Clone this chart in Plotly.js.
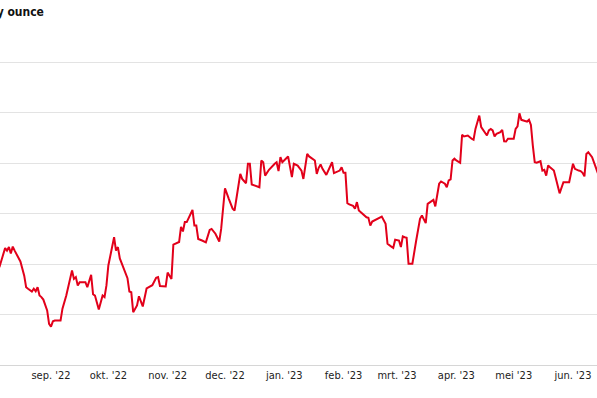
<!DOCTYPE html>
<html>
<head>
<meta charset="utf-8">
<script src="https://cdn.plot.ly/plotly-3.0.1.min.js"></script>
<style>
html,body{margin:0;padding:0;background:#fff;}
#chart{width:597px;height:398px;}
text{font-stretch:condensed !important;}
</style>
</head>
<body>
<div id="chart"></div>
<script>
const dates = [
"2022-08-05","2022-08-06","2022-08-07","2022-08-08","2022-08-09","2022-08-10","2022-08-11","2022-08-12","2022-08-13","2022-08-15",
"2022-08-16","2022-08-18","2022-08-19","2022-08-20","2022-08-22","2022-08-23","2022-08-24","2022-08-25","2022-08-26","2022-08-27",
"2022-08-28","2022-08-30","2022-08-31","2022-09-01","2022-09-02","2022-09-03","2022-09-06","2022-09-07","2022-09-09","2022-09-12",
"2022-09-13","2022-09-14","2022-09-15","2022-09-16","2022-09-19","2022-09-20","2022-09-22","2022-09-23","2022-09-24","2022-09-26",
"2022-09-28","2022-09-29","2022-09-30","2022-10-01","2022-10-04","2022-10-05","2022-10-06","2022-10-07","2022-10-10","2022-10-11",
"2022-10-12","2022-10-13","2022-10-14","2022-10-16","2022-10-17","2022-10-18","2022-10-19","2022-10-21","2022-10-24","2022-10-26",
"2022-10-27","2022-10-28","2022-10-31","2022-11-01","2022-11-03","2022-11-04","2022-11-07","2022-11-08","2022-11-09","2022-11-10",
"2022-11-11","2022-11-14","2022-11-15","2022-11-16","2022-11-17","2022-11-19","2022-11-21","2022-11-23","2022-11-24","2022-11-26",
"2022-11-28","2022-11-29","2022-12-01","2022-12-03","2022-12-05","2022-12-06","2022-12-09","2022-12-10","2022-12-12","2022-12-13",
"2022-12-14","2022-12-15","2022-12-17","2022-12-19","2022-12-20","2022-12-21","2022-12-22","2022-12-24","2022-12-27","2022-12-28",
"2022-12-29","2022-12-30","2022-12-31","2023-01-03","2023-01-05","2023-01-06","2023-01-08","2023-01-10","2023-01-11","2023-01-13",
"2023-01-14","2023-01-17","2023-01-18","2023-01-19","2023-01-20","2023-01-21","2023-01-23","2023-01-25","2023-01-26","2023-01-27",
"2023-01-30","2023-01-31","2023-02-01","2023-02-02","2023-02-03","2023-02-04","2023-02-06","2023-02-07","2023-02-08","2023-02-09",
"2023-02-10","2023-02-12","2023-02-13","2023-02-14","2023-02-15","2023-02-16","2023-02-18","2023-02-21","2023-02-23","2023-02-24",
"2023-02-26","2023-02-27","2023-02-28","2023-03-02","2023-03-03","2023-03-04","2023-03-05","2023-03-06","2023-03-07","2023-03-09",
"2023-03-11","2023-03-13","2023-03-14","2023-03-16","2023-03-17","2023-03-19","2023-03-20","2023-03-21","2023-03-23","2023-03-24",
"2023-03-26","2023-03-27","2023-03-28","2023-03-29","2023-03-30","2023-03-31","2023-04-01","2023-04-03","2023-04-04","2023-04-05",
"2023-04-07","2023-04-09","2023-04-10","2023-04-11","2023-04-13","2023-04-14","2023-04-16","2023-04-17","2023-04-18","2023-04-19",
"2023-04-20","2023-04-21","2023-04-22","2023-04-24","2023-04-25","2023-04-26","2023-04-27","2023-04-28","2023-05-01","2023-05-02",
"2023-05-03","2023-05-04","2023-05-05","2023-05-07","2023-05-08","2023-05-09","2023-05-10","2023-05-11","2023-05-12","2023-05-13",
"2023-05-15","2023-05-16","2023-05-17","2023-05-18","2023-05-19","2023-05-20","2023-05-22","2023-05-23","2023-05-24","2023-05-25",
"2023-05-27","2023-05-29","2023-05-30","2023-06-01","2023-06-02","2023-06-04","2023-06-05","2023-06-06","2023-06-07","2023-06-08",
"2023-06-09","2023-06-11","2023-06-12","2023-06-13","2023-06-14"
];
const prices = [
19.87,20.14,20.47,20.63,20.53,20.67,20.42,20.69,20.53,20.27,
20.10,19.54,19.08,19.02,18.91,19.02,18.92,19.08,18.75,18.69,
18.59,18.16,17.63,17.52,17.73,17.76,17.76,18.23,18.75,19.74,
19.41,19.48,19.15,19.28,19.28,19.08,19.57,18.80,18.75,18.20,
18.75,18.69,19.15,19.94,21.06,20.53,20.67,20.22,19.62,19.44,
18.91,18.88,18.09,18.36,18.72,18.49,18.32,19.03,19.16,19.45,
19.48,19.13,19.11,19.66,19.41,20.77,20.87,21.47,21.29,21.66,
21.66,22.14,21.52,21.52,20.99,20.93,20.86,21.35,21.39,21.20,
20.89,21.39,23.00,22.58,22.19,22.12,23.57,23.37,23.20,23.97,
23.97,23.15,23.11,23.04,24.10,24.03,23.50,23.73,23.97,24.03,
23.68,24.23,24.03,24.26,23.44,23.97,23.90,23.70,23.37,24.36,
24.26,24.10,23.57,23.81,23.94,23.77,23.53,23.86,24.03,23.60,
23.70,23.83,23.61,23.61,22.41,22.36,22.30,22.19,22.45,22.12,
22.05,21.88,21.85,21.83,21.52,21.68,21.75,21.88,21.59,20.80,
20.69,20.64,20.96,20.93,20.67,21.09,21.06,21.04,20.01,20.01,
20.93,21.79,21.92,21.62,22.38,22.51,22.54,22.28,23.18,23.27,
23.18,23.04,23.31,23.35,24.10,24.17,24.10,24.01,25.12,25.05,
25.09,24.96,24.92,25.35,25.88,25.42,25.22,25.09,25.29,25.35,
25.29,25.05,25.16,25.22,25.31,24.86,24.85,24.96,24.96,25.35,
25.45,25.97,25.71,25.68,25.64,25.71,25.51,24.69,24.03,24.01,
24.07,23.70,23.73,23.50,23.90,23.83,23.70,23.41,23.07,22.80,
23.24,23.24,23.24,23.97,23.77,23.70,23.68,23.61,23.47,24.36,
24.43,24.23,24.03,23.77,23.60
];
const tickDates = ["2022-09-01","2022-10-01","2022-11-01","2022-12-01","2023-01-01","2023-02-01","2023-03-01","2023-04-01","2023-05-01","2023-06-01"];
const tickLabels = ["sep. '22","okt. '22","nov. '22","dec. '22","jan. '23","feb. '23","mrt. '23","apr. '23","mei '23","jun. '23"];
const gridValues = [16,18,20,22,24,26,28];
const titleText = "Zilverprijs in dollar per troy ounce";

const condensed = "'DejaVu Sans', sans-serif";

const trace = {
  x: dates, y: prices, type: 'scatter', mode: 'lines',
  line: {color: '#e2001a', width: 2}, hoverinfo: 'x+y'
};

const layout = {
  width: 597, height: 398,
  margin: {l: 0, r: 0, t: 61, b: 33, pad: 0},
  paper_bgcolor: '#ffffff', plot_bgcolor: '#ffffff',
  showlegend: false,
  xaxis: {
    type: 'date',
    range: ['2022-08-05 08:00', '2023-06-13 13:30'],
    tickvals: tickDates, ticktext: tickLabels,
    showgrid: false, zeroline: false,
    showline: true, linecolor: '#d6d6d6', linewidth: 1,
    ticks: '', ticklen: 0,
    tickfont: {family: condensed, size: 11, color: '#222222'}
  },
  yaxis: {
    range: [16, 28.04],
    tickvals: gridValues,
    showticklabels: false,
    showgrid: true, gridcolor: '#e3e3e3', gridwidth: 1,
    zeroline: false, showline: false, ticks: ''
  },
  annotations: [{
    text: '<b>' + titleText + '</b>',
    xref: 'paper', yref: 'paper',
    x: 46/597, y: 1, yshift: 49,
    xanchor: 'right', yanchor: 'middle',
    showarrow: false,
    font: {family: condensed, size: 12, color: '#111111'}
  }]
};

Plotly.newPlot('chart', [trace], layout, {displayModeBar: false, staticPlot: true});
</script>
</body>
</html>
